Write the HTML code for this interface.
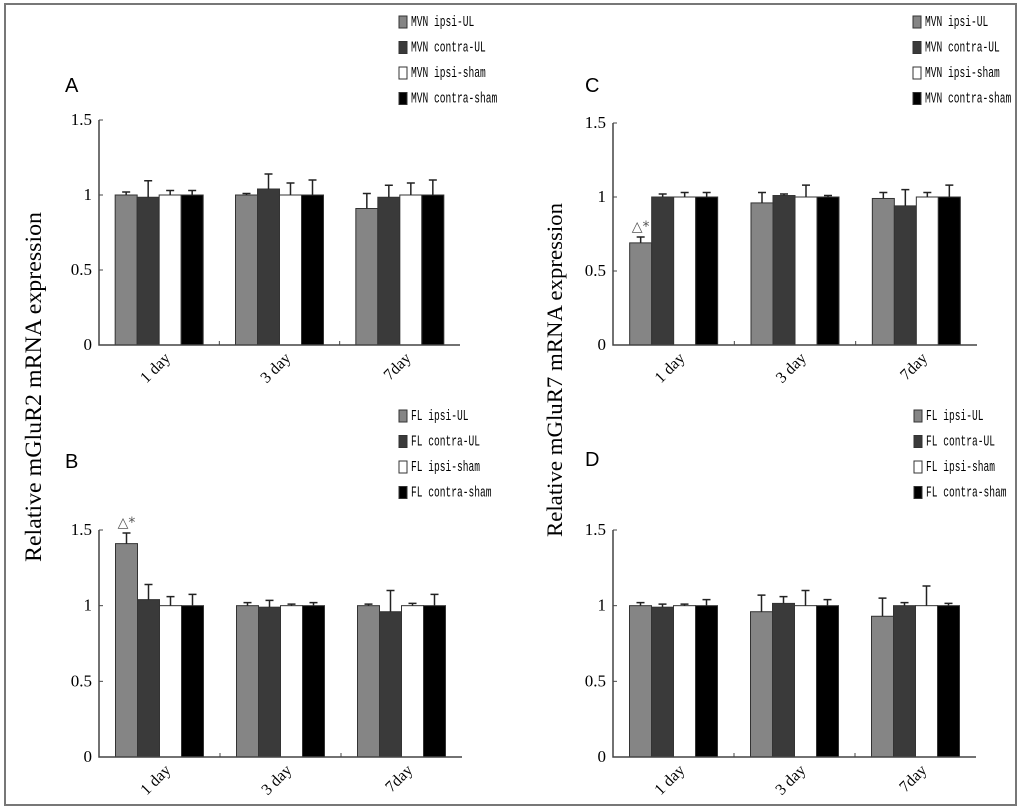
<!DOCTYPE html>
<html><head><meta charset="utf-8"><style>
body{margin:0;background:#fff;}
svg{display:block;font-family:"Liberation Serif",serif;}
.leg{font-family:"Liberation Mono","WenQuanYi Zen Hei",monospace;font-size:12px;}
</style></head><body>
<svg id="fig" width="1024" height="812">
<rect x="5" y="4" width="1011" height="801" fill="#fff" stroke="#777" stroke-width="2"/>
<text x="41" y="387" font-size="23" text-anchor="middle" textLength="350" lengthAdjust="spacingAndGlyphs" transform="rotate(-90 41 387)">Relative mGluR2 mRNA expression</text>
<text x="562" y="370" font-size="22" text-anchor="middle" textLength="334" lengthAdjust="spacingAndGlyphs" transform="rotate(-90 562 370)">Relative mGluR7 mRNA expression</text>
</svg>
<script>
const categories=["1 day","3 day","7day"];
const yTicks=[0,0.5,1,1.5];
const yTickLabels=["0","0.5","1","1.5"];
const seriesColors=["#858585","#3a3a3a","#ffffff","#000000"];
const mvnNames=["MVN ipsi-UL","MVN contra-UL","MVN ipsi-sham","MVN contra-sham"];
const flNames=["FL ipsi-UL","FL contra-UL","FL ipsi-sham","FL contra-sham"];
// Panel A
const aIpsiUL=[1.0,1.0,0.91], aIpsiULErr=[0.02,0.01,0.1];
const aContraUL=[0.985,1.04,0.985], aContraULErr=[0.11,0.1,0.08];
const aIpsiSham=[1,1,1], aIpsiShamErr=[0.03,0.08,0.08];
const aContraSham=[1,1,1], aContraShamErr=[0.03,0.1,0.1];
// Panel B
const bIpsiUL=[1.41,1.0,1.0], bIpsiULErr=[0.07,0.02,0.01];
const bContraUL=[1.04,0.99,0.96], bContraULErr=[0.1,0.045,0.14];
const bIpsiSham=[1,1,1], bIpsiShamErr=[0.06,0.01,0.015];
const bContraSham=[1,1,1], bContraShamErr=[0.075,0.02,0.075];
// Panel C
const cIpsiUL=[0.69,0.96,0.99], cIpsiULErr=[0.04,0.07,0.04];
const cContraUL=[1.0,1.01,0.94], cContraULErr=[0.02,0.01,0.11];
const cIpsiSham=[1,1,1], cIpsiShamErr=[0.03,0.08,0.03];
const cContraSham=[1,1,1], cContraShamErr=[0.03,0.01,0.08];
// Panel D
const dIpsiUL=[1.0,0.96,0.93], dIpsiULErr=[0.02,0.11,0.12];
const dContraUL=[0.99,1.015,1.0], dContraULErr=[0.02,0.045,0.02];
const dIpsiSham=[1,1,1], dIpsiShamErr=[0.01,0.1,0.13];
const dContraSham=[1,1,1], dContraShamErr=[0.04,0.04,0.015];

const NS="http://www.w3.org/2000/svg";
const svg=document.getElementById('fig');
function mk(tag,attrs,parent){const e=document.createElementNS(NS,tag);for(const k in attrs)e.setAttribute(k,attrs[k]);(parent||svg).appendChild(e);return e;}

function panel(id,letter,lx,ly,x0,x1,yTop,y0,vals,errs,mark,legNames,legX,legY){
  const g=mk('g',{});
  
  
  const yS=v=>y0-(v/1.5)*(y0-yTop);
  const band=(x1-x0)/3, bw=22;
  const xS=(ci,si)=>x0+ci*band+(band-4*bw)/2+si*bw;
  const t=mk('text',{x:lx,y:ly,'font-family':'Liberation Sans, sans-serif','font-size':20},g);t.textContent=letter;
  
  
  yTicks.forEach((v,i)=>{
    const y=yS(v);
    const l=mk('line',{x1:x0,x2:x0+4,y1:y,y2:y,stroke:'#444'},g);
    
    
    const tx=mk('text',{x:x0-7,y:y+5,'font-size':17,'text-anchor':'end'},g);tx.textContent=yTickLabels[i];
    
    
  });
  categories.forEach((c,ci)=>{
    if(ci>0){const d=mk('line',{x1:x0+ci*band,x2:x0+ci*band,y1:y0,y2:y0-4,stroke:'#444'},g);
      
      }
    const cx=x0+ci*band+band/2+12, cy=y0+14;
    const tx=mk('text',{x:cx,y:cy,'font-size':16,'text-anchor':'end',transform:`rotate(-45 ${cx} ${cy})`},g);tx.textContent=c;
    
    
    for(let si=0;si<4;si++){
      const v=vals[si][ci],e=errs[si][ci],x=xS(ci,si);
      const r=mk('rect',{x:x,y:yS(v),width:bw,height:y0-yS(v),fill:seriesColors[si],stroke:'#333','stroke-width':1},g);
      
      
      const cxb=x+bw/2;
      const el=mk('path',{d:`M${cxb},${yS(v)}V${yS(v+e)}M${cxb-4},${yS(v+e)}H${cxb+4}`,stroke:'#222','stroke-width':1.5,fill:'none'},g);
      
      
    }
  });
  const ax=mk('path',{d:`M${x0},${yTop}V${y0}H${x1}`,stroke:'#444','stroke-width':1.5,fill:'none'},g);
  
  
  if(mark){const v=vals[0][0]+errs[0][0];const m=mk('text',{x:xS(0,0)+bw/2,y:yS(v)-6,'font-size':14,'text-anchor':'middle',fill:'#555','font-family':'DejaVu Sans, sans-serif'},g);m.textContent='△*';
    
    }
  legNames.forEach((n,i)=>{
    const y=legY+i*25.5;
    const s=mk('rect',{x:legX,y:y-10,width:8,height:12,fill:seriesColors[i],stroke:'#333'},g);
    
    
    const tx=mk('text',{x:legX+12,y:y,class:'leg'},g);
    tx.setAttribute('transform',`translate(${legX+12},${y}) scale(0.8,1.25) translate(${-(legX+12)},${-y})`);
    tx.textContent=n;
    
    
  });
}
panel('a','A',65,92,99,460,120,345,[aIpsiUL,aContraUL,aIpsiSham,aContraSham],[aIpsiULErr,aContraULErr,aIpsiShamErr,aContraShamErr],false,mvnNames,399,26);
panel('b','B',65,468,99,462,530,757,[bIpsiUL,bContraUL,bIpsiSham,bContraSham],[bIpsiULErr,bContraULErr,bIpsiShamErr,bContraShamErr],true,flNames,399,420);
panel('c','C',585,92,613,977,123,345,[cIpsiUL,cContraUL,cIpsiSham,cContraSham],[cIpsiULErr,cContraULErr,cIpsiShamErr,cContraShamErr],true,mvnNames,913,26);
panel('d','D',585,466,613,976,530,757,[dIpsiUL,dContraUL,dIpsiSham,dContraSham],[dIpsiULErr,dContraULErr,dIpsiShamErr,dContraShamErr],false,flNames,914,420);
</script>
</body></html>
